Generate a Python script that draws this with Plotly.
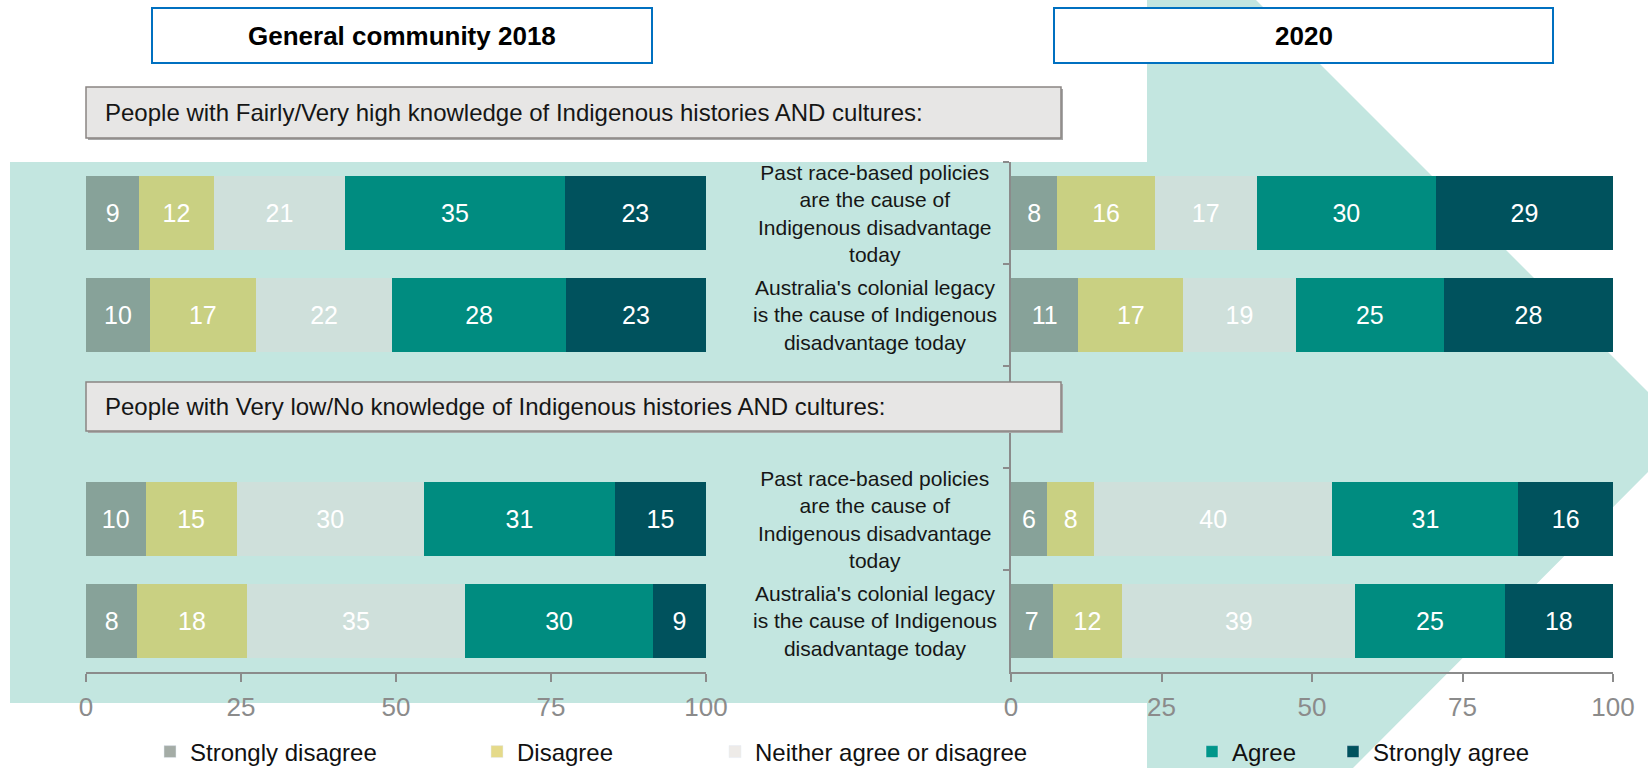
import plotly.graph_objects as go

# Figure fills the 1648x768 window; the body margin is removed after plotting.
W, H = 1648, 768
OFF = 0

# ---------------- data ----------------
rows = ["hi_past", "hi_colonial", "gap", "lo_past", "lo_colonial"]
bar_rows = ["hi_past", "hi_colonial", "lo_past", "lo_colonial"]
row_labels = {
    "hi_past": "Past race-based policies<br>are the cause of<br>Indigenous disadvantage<br>today",
    "hi_colonial": "Australia's colonial legacy<br>is the cause of Indigenous<br>disadvantage today",
    "lo_past": "Past race-based policies<br>are the cause of<br>Indigenous disadvantage<br>today",
    "lo_colonial": "Australia's colonial legacy<br>is the cause of Indigenous<br>disadvantage today",
}
responses = ["Strongly disagree", "Disagree", "Neither agree or disagree", "Agree", "Strongly agree"]

# 2018 (general community), % per row in bar_rows order
sd_2018 = [8.6, 10.3, 9.6, 8.3]
d_2018 = [12.0, 17.1, 14.7, 17.6]
n_2018 = [21.2, 22.0, 30.2, 35.3]
a_2018 = [35.4, 28.0, 30.8, 30.2]
sa_2018 = [22.8, 22.6, 14.7, 8.6]

# 2020
sd_2020 = [7.7, 11.2, 6.0, 6.9]
d_2020 = [16.2, 17.4, 7.8, 11.6]
n_2020 = [16.9, 18.7, 39.6, 38.7]
a_2020 = [29.8, 24.6, 30.9, 24.8]
sa_2020 = [29.4, 28.1, 15.7, 18.0]

x_ticks = [0, 25, 50, 75, 100]

bar_colors = ["#87A299", "#C9D082", "#CFE0DB", "#008C80", "#00525D"]
legend_colors = ["#A4ACA6", "#E5DA8A", "#EEEBE8", "#00968A", "#00525E"]

FONT = "Liberation Sans, Arial, Helvetica, sans-serif"
AXIS_GREY = "#8B8B8B"
BG_TEAL = "#C3E6E0"


def px_x(p):
    return (p - OFF) / W


def px_y(p):
    return 1 - (p - OFF) / H


fig = go.Figure()

series_2018 = [sd_2018, d_2018, n_2018, a_2018, sa_2018]
series_2020 = [sd_2020, d_2020, n_2020, a_2020, sa_2020]

for name, vals, col in zip(responses, series_2018, bar_colors):
    fig.add_trace(go.Bar(
        x=vals, y=bar_rows, orientation="h", name=name,
        marker=dict(color=col, line=dict(width=0)),
        width=0.73, xaxis="x", yaxis="y", showlegend=False,
        texttemplate="%{x:.0f}", textposition="inside", insidetextanchor="middle",
        textangle=0, textfont=dict(family=FONT, size=25, color="white"),
        hoverinfo="skip",
    ))
for name, vals, col in zip(responses, series_2020, bar_colors):
    fig.add_trace(go.Bar(
        x=vals, y=bar_rows, orientation="h", name=name,
        marker=dict(color=col, line=dict(width=0)),
        width=0.73, xaxis="x2", yaxis="y2", showlegend=False,
        texttemplate="%{x:.0f}", textposition="inside", insidetextanchor="middle",
        textangle=0, textfont=dict(family=FONT, size=25, color="white"),
        hoverinfo="skip",
    ))

# legend entries (one legend each, to reproduce the uneven spacing)
legend_centres = [174, 501, 739, 1216, 1357]
legend_ids = ["legend", "legend2", "legend3", "legend4", "legend5"]
for name, col, lid in zip(responses, legend_colors, legend_ids):
    fig.add_trace(go.Bar(
        x=[None], y=[None], orientation="h", name=name,
        marker=dict(color=col), xaxis="x", yaxis="y",
        showlegend=True, legend=lid, hoverinfo="skip",
    ))

layout_legends = {}
for lid, cx in zip(legend_ids, legend_centres):
    layout_legends[lid] = dict(
        x=px_x(cx - 24), xanchor="left", y=px_y(752), yanchor="middle",
        orientation="h", bgcolor="rgba(0,0,0,0)", borderwidth=0,
        font=dict(family=FONT, size=24, color="#111111"),
        itemclick=False, itemdoubleclick=False,
    )

xaxis_common = dict(
    range=[0, 100], tickvals=x_ticks, ticks="outside", ticklen=8, tickwidth=2,
    tickcolor=AXIS_GREY, showline=True, linecolor=AXIS_GREY, linewidth=2,
    showgrid=False, zeroline=False, ticklabelstandoff=3, automargin=False,
    tickfont=dict(family=FONT, size=26, color=AXIS_GREY), fixedrange=True,
)

shapes = [
    # background arrow
    dict(type="path", xref="paper", yref="paper", layer="below",
         path=("M {a},{b} L {c},{b} L {c},{t} L {d},{t} L {e},{m} L {f},{z} "
               "L {c},{z} L {c},{g} L {a},{g} Z").format(
             a=px_x(10), b=px_y(162), c=px_x(1147), t=px_y(0), d=px_x(1256),
             e=px_x(1688), m=px_y(432), f=px_x(1353), z=px_y(768), g=px_y(703)),
         fillcolor=BG_TEAL, line=dict(width=0)),
    # title boxes
    dict(type="rect", xref="paper", yref="paper", layer="above",
         x0=px_x(152), x1=px_x(652), y0=px_y(63), y1=px_y(8),
         fillcolor="white", line=dict(color="#0070C0", width=2)),
    dict(type="rect", xref="paper", yref="paper", layer="above",
         x0=px_x(1054), x1=px_x(1553), y0=px_y(63), y1=px_y(8),
         fillcolor="white", line=dict(color="#0070C0", width=2)),
    # grey section boxes (shadow + box)
    dict(type="rect", xref="paper", yref="paper", layer="above",
         x0=px_x(88), x1=px_x(1063), y0=px_y(140), y1=px_y(89),
         fillcolor="#A8A8A8", line=dict(width=0)),
    dict(type="rect", xref="paper", yref="paper", layer="above",
         x0=px_x(86), x1=px_x(1061), y0=px_y(138), y1=px_y(87),
         fillcolor="#E7E6E5", line=dict(color="#8A8583", width=1.5)),
    dict(type="rect", xref="paper", yref="paper", layer="above",
         x0=px_x(88), x1=px_x(1063), y0=px_y(433), y1=px_y(384),
         fillcolor="#A8A8A8", line=dict(width=0)),
    dict(type="rect", xref="paper", yref="paper", layer="above",
         x0=px_x(86), x1=px_x(1061), y0=px_y(431), y1=px_y(382),
         fillcolor="#E7E6E5", line=dict(color="#8A8583", width=1.5)),
]

annotations = [
    dict(text="<b>General community 2018</b>", xref="paper", yref="paper",
         x=px_x(402), y=px_y(35.5), xanchor="center", yanchor="middle", showarrow=False,
         font=dict(family=FONT, size=26, color="black")),
    dict(text="<b>2020</b>", xref="paper", yref="paper",
         x=px_x(1304), y=px_y(35.5), xanchor="center", yanchor="middle", showarrow=False,
         font=dict(family=FONT, size=26, color="black")),
    dict(text="People with Fairly/Very high knowledge of Indigenous histories AND cultures:",
         xref="paper", yref="paper", x=px_x(103), y=px_y(112.5), xanchor="left",
         yanchor="middle", showarrow=False, font=dict(family=FONT, size=24, color="#161616")),
    dict(text="People with Very low/No knowledge of Indigenous histories AND cultures:",
         xref="paper", yref="paper", x=px_x(103), y=px_y(406.5), xanchor="left",
         yanchor="middle", showarrow=False, font=dict(family=FONT, size=24, color="#161616")),
]
for r in bar_rows:
    annotations.append(dict(
        text=row_labels[r], xref="paper", yref="y2", x=px_x(875), y=r,
        xanchor="center", yanchor="middle", align="center", showarrow=False,
        font=dict(family=FONT, size=21, color="#161616"),
    ))

fig.update_layout(
    width=W, height=H, autosize=False,
    margin=dict(l=0, r=0, t=0, b=0, pad=0, autoexpand=False),
    paper_bgcolor="white", plot_bgcolor="rgba(0,0,0,0)",
    barmode="stack", bargap=0.27,
    font=dict(family=FONT),
    xaxis=dict(xaxis_common, domain=[px_x(86), px_x(706)], anchor="y"),
    xaxis2=dict(xaxis_common, domain=[px_x(1011), px_x(1613)], anchor="y2"),
    yaxis=dict(domain=[px_y(672), px_y(162)], type="category",
               categoryorder="array", categoryarray=rows, range=[4.5, -0.5],
               showline=False, showticklabels=False, ticks="", showgrid=False,
               zeroline=False, anchor="x", fixedrange=True, automargin=False),
    yaxis2=dict(domain=[px_y(672), px_y(162)], type="category",
                categoryorder="array", categoryarray=rows, range=[4.5, -0.5],
                showline=True, linecolor=AXIS_GREY, linewidth=1.5,
                ticks="outside", tickson="boundaries", ticklen=6, tickwidth=1.5,
                tickcolor=AXIS_GREY, showticklabels=False, showgrid=False,
                zeroline=False, anchor="x2", fixedrange=True, automargin=False),
    shapes=shapes,
    annotations=annotations,
    showlegend=True,
    **layout_legends,
)

fig.write_html("out.html", config={"displayModeBar": False},
               post_script="document.body.style.margin='0';")
